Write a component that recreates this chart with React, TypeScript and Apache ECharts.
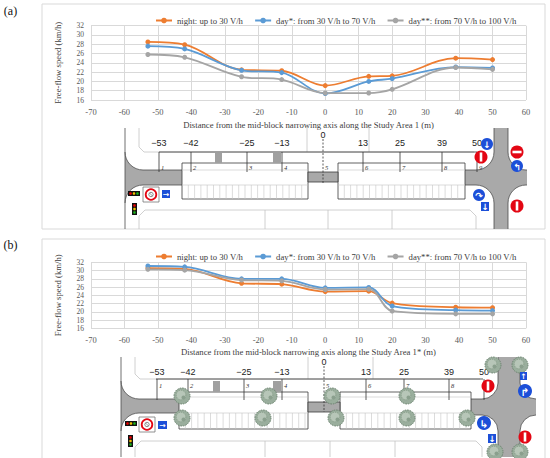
import React, { useEffect, useRef } from "react";
import * as echarts from "echarts";

// ---------- data ----------
const distances = [-53, -42, -25, -13, 0, 13, 20, 39, 50];
const seriesNames = [
  "night: up to 30 V/h",
  "day*: from 30 V/h to 70 V/h",
  "day**: from 70 V/h to 100 V/h",
];
const nightA = [28.5, 27.9, 22.5, 22.3, 19.1, 21.1, 21.2, 25.0, 24.7];
const dayA = [27.6, 27.0, 22.4, 21.9, 17.4, 20.0, 20.6, 23.1, 22.9];
const day2A = [25.8, 25.2, 21.0, 20.4, 17.5, 17.5, 18.3, 23.0, 22.6];
const nightB = [30.6, 30.4, 26.9, 26.7, 24.9, 25.0, 22.1, 21.1, 21.0];
const dayB = [31.1, 30.9, 28.0, 28.0, 25.8, 25.9, 21.4, 20.4, 20.3];
const day2B = [30.3, 30.1, 27.7, 27.5, 25.4, 25.5, 20.2, 19.5, 19.5];
const xMin = -70;
const xMax = 60;
const xStep = 10;
const yMin = 16;
const yMax = 32;
const yStep = 2;
const panelLabels = ["(a)", "(b)"];
const xAxisTitles = [
  "Distance from the mid-block narrowing axis along the Study Area 1 (m)",
  "Distance from the mid-block narrowing axis along the Study Area 1* (m)",
];
const yAxisTitle = "Free-flow speed (km/h)";
const stationLabels = ["−53", "−42", "−25", "−13", "0", "13", "25", "39", "50"];
const stationNumbers = ["1", "2", "3", "4", "5", "6", "7", "8", "9"];

// ---------- styles ----------
const COLORS = ["#ED7D31", "#5B9BD5", "#A5A5A5"];
const SERIF = "Liberation Serif";
const SANS = "Liberation Sans";
const ROAD = "#a9a9a9";
const CURB = "#4d4d4d";
const LIGHT = "#c4c4c4";
const RED = "#e30613";
const BLUE = "#1c4fd8";

// ---------- graphic helpers ----------
function rect(x: number, y: number, w: number, h: number, style: any) {
  return { type: "rect", shape: { x, y, width: w, height: h }, style, silent: true };
}
function line(x1: number, y1: number, x2: number, y2: number, stroke: string, lw = 0.8, dash?: number[]) {
  const style: any = { stroke, lineWidth: lw };
  if (dash) style.lineDash = dash;
  return { type: "line", shape: { x1, y1, x2, y2 }, style, silent: true };
}
function poly(points: number[][], stroke: string, lw = 0.8) {
  return { type: "polyline", shape: { points }, style: { stroke, lineWidth: lw, fill: null }, silent: true };
}
function circ(cx: number, cy: number, r: number, style: any) {
  return { type: "circle", shape: { cx, cy, r }, style, silent: true };
}
function txt(x: number, y: number, text: string, size: number, family: string, fill: string, extra: any = {}) {
  return {
    type: "text",
    x,
    y,
    style: { text, fontSize: size, fontFamily: family, fill, align: "center", verticalAlign: "middle", ...extra },
    silent: true,
  };
}
function corner(cx: number, cy: number, r: number, q: number) {
  const sx = q === 0 || q === 3 ? cx : cx - r;
  const sy = q === 0 || q === 1 ? cy : cy - r;
  const a0 = (q * Math.PI) / 2;
  const a1 = a0 + Math.PI / 2;
  return [
    rect(sx, sy, r, r, { fill: ROAD }),
    { type: "sector", shape: { cx, cy, r0: 0, r, startAngle: a0, endAngle: a1, clockwise: true }, style: { fill: "#fff" }, silent: true },
    { type: "arc", shape: { cx, cy, r, startAngle: a0, endAngle: a1, clockwise: true }, style: { stroke: CURB, fill: null, lineWidth: 0.8 }, silent: true },
  ];
}
function noEntry(cx: number, cy: number, r: number, vertical: boolean) {
  return [
    circ(cx, cy, r, { fill: RED }),
    vertical
      ? rect(cx - r * 0.2, cy - r * 0.7, r * 0.4, r * 1.4, { fill: "#fff" })
      : rect(cx - r * 0.7, cy - r * 0.2, r * 1.4, r * 0.4, { fill: "#fff" }),
  ];
}
function blueCircle(cx: number, cy: number, r: number, glyph: string) {
  return [
    circ(cx, cy, r, { fill: BLUE }),
    txt(cx, cy + 0.5, glyph, r * 1.5, "DejaVu Sans", "#fff", { fontWeight: "bold" }),
  ];
}
function blueSquare(x: number, y: number, w: number, h: number, glyph: string) {
  return [
    rect(x, y, w, h, { fill: BLUE }),
    txt(x + w / 2, y + h / 2 + 0.3, glyph, h * 0.95, "DejaVu Sans", "#fff", { fontWeight: "bold" }),
  ];
}
function trafficH(x: number, y: number) {
  return [
    rect(x, y, 12, 5, { fill: "#111" }),
    circ(x + 2.5, y + 2.5, 1.3, { fill: "#e00" }),
    circ(x + 6, y + 2.5, 1.3, { fill: "#f2c200" }),
    circ(x + 9.5, y + 2.5, 1.3, { fill: "#1bb31b" }),
  ];
}
function trafficV(x: number, y: number) {
  return [
    rect(x, y, 5, 12, { fill: "#111" }),
    circ(x + 2.5, y + 2.5, 1.3, { fill: "#e00" }),
    circ(x + 2.5, y + 6, 1.3, { fill: "#f2c200" }),
    circ(x + 2.5, y + 9.5, 1.3, { fill: "#1bb31b" }),
  ];
}
function speedSign(x: number, y: number) {
  return [
    rect(x, y, 16, 15, { fill: "#fff", stroke: "#777", lineWidth: 0.8 }),
    circ(x + 8, y + 7.5, 5.3, { fill: "#fff", stroke: RED, lineWidth: 1.8 }),
    circ(x + 8, y + 7.5, 2.2, { fill: "#fff", stroke: "#555", lineWidth: 0.7 }),
    line(x + 6.4, y + 5.9, x + 9.6, y + 9.1, "#555", 0.6),
  ];
}
function tree(cx: number, cy: number, r: number) {
  return [
    circ(cx, cy, r, { fill: "#9aae9d", stroke: "#6a826e", lineWidth: 1, lineDash: [1.5, 1] }),
    circ(cx - 1, cy - 1, r * 0.6, { fill: "#b7c6b8", stroke: "#7d947f", lineWidth: 0.8, lineDash: [1, 1] }),
    circ(cx + 1.5, cy + 1.5, r * 0.25, { fill: "#8a9f8d" }),
  ];
}

type DiagramCfg = {
  top: number;
  bottom: number;
  measureY: number;
  measureX: [number, number];
  labelY: number;
  zeroLabelY: number;
  zeroDash: [number, number];
  tickBottom: number;
  numY: number;
  stationX: number[];
  blocks: [number, number][];
  blockY: [number, number];
  stripY: number;
  stallTop: number;
  narrow: [number, number, number, number];
  left: { curbX: number; endX: number; y1: number; y2: number; r: number };
  inter: { vx1: number; vx2: number; hEnd: number; y1: number; y2: number; r: number };
  outlineLeft: number;
  outlineVerticals: number[];
  bottomY: number;
  bottomDividers: number[];
  bottomRight: number;
  markers: number[][];
};

function buildDiagram(c: DiagramCfg, extra: any[]) {
  const g: any[] = [];
  const L = c.left;
  const I = c.inter;
  // light block outlines (sidewalks / buildings)
  g.push(poly([[c.outlineLeft, c.top], [c.outlineLeft, c.measureY - 5], [c.outlineLeft + 5, c.measureY], [I.vx1 - I.r - 2, c.measureY]], LIGHT));
  c.outlineVerticals.forEach((x) => g.push(line(x, c.top, x, c.measureY, LIGHT)));
  g.push(poly([[c.outlineLeft, c.bottom], [c.outlineLeft, c.bottomY + 6], [c.outlineLeft + 6, c.bottomY], [c.bottomRight - 6, c.bottomY], [c.bottomRight, c.bottomY + 6], [c.bottomRight, c.bottom]], LIGHT));
  c.bottomDividers.forEach((x) => g.push(line(x, c.bottomY, x, c.bottom, LIGHT)));

  // roads
  g.push(rect(L.curbX, L.y1, L.endX - L.curbX, L.y2 - L.y1, { fill: ROAD }));
  g.push(...corner(L.curbX + L.r, L.y1 - L.r, L.r, 1));
  g.push(...corner(L.curbX + L.r, L.y2 + L.r, L.r, 2));
  const bx2 = c.blocks[1][1];
  g.push(rect(bx2, I.y1, I.hEnd - bx2, I.y2 - I.y1, { fill: ROAD }));
  g.push(rect(I.vx1, c.top, I.vx2 - I.vx1, c.bottom - c.top, { fill: ROAD }));
  g.push(...corner(I.vx1 - I.r, I.y1 - I.r, I.r, 0));
  g.push(...corner(I.vx2 + I.r, I.y1 - I.r, I.r, 1));
  g.push(...corner(I.vx1 - I.r, I.y2 + I.r, I.r, 3));
  g.push(...corner(I.vx2 + I.r, I.y2 + I.r, I.r, 2));
  // curbs
  g.push(line(L.curbX, c.top, L.curbX, c.bottom, CURB));
  g.push(line(L.curbX + L.r, L.y1, L.endX, L.y1, CURB));
  g.push(line(L.curbX + L.r, L.y2, L.endX, L.y2, CURB));
  g.push(line(bx2, I.y1, I.vx1 - I.r, I.y1, CURB));
  g.push(line(bx2, I.y2, I.vx1 - I.r, I.y2, CURB));
  g.push(line(I.vx1, c.top, I.vx1, I.y1 - I.r, CURB));
  g.push(line(I.vx2, c.top, I.vx2, I.y1 - I.r, CURB));
  g.push(line(I.vx1, I.y2 + I.r, I.vx1, c.bottom, CURB));
  g.push(line(I.vx2, I.y2 + I.r, I.vx2, c.bottom, CURB));
  g.push(line(I.vx2 + I.r, I.y1, I.hEnd, I.y1, CURB));
  g.push(line(I.vx2 + I.r, I.y2, I.hEnd, I.y2, CURB));

  // parking blocks
  c.blocks.forEach(([x1, x2]) => {
    g.push(rect(x1, c.blockY[0], x2 - x1, c.blockY[1] - c.blockY[0], { fill: "#fff", stroke: "#3a3a3a", lineWidth: 0.8 }));
    g.push(line(x1, c.stripY, x2, c.stripY, LIGHT, 0.6));
    g.push(line(x1, c.stallTop, x2, c.stallTop, LIGHT, 0.6));
    for (let x = x1 + 6.3; x < x2 - 2; x += 6.3) g.push(line(x, c.stallTop, x, c.blockY[1], LIGHT, 0.6));
  });
  // narrowing
  const [nx1, nx2, ny1, ny2] = c.narrow;
  g.push(rect(nx1, ny1, nx2 - nx1, ny2 - ny1, { fill: ROAD, stroke: "#3a3a3a", lineWidth: 0.8 }));
  c.markers.forEach(([x, y, w, h]) => g.push(rect(x, y, w, h, { fill: "#a0a0a0" })));

  // measurement line, ticks and labels
  g.push(line(c.measureX[0], c.measureY, c.measureX[1], c.measureY, "#333", 0.8));
  c.stationX.forEach((x, i) => {
    const isZero = stationLabels[i] === "0";
    if (isZero) {
      g.push(line(x, c.zeroDash[0], x, c.zeroDash[1], "#333", 0.8, [2, 1.5]));
      g.push(txt(x, c.zeroLabelY, stationLabels[i], 9, SANS, "#222"));
    } else {
      g.push(line(x, c.measureY, x, c.tickBottom, "#333", 0.8));
      g.push(txt(x, c.labelY, stationLabels[i], 9, SANS, "#222"));
    }
    g.push(txt(x + 3.5, c.numY, stationNumbers[i], 6.5, SERIF, "#333", { fontStyle: "italic" }));
  });
  g.push(...extra);
  return g;
}

const diagramA: DiagramCfg = {
  top: 128,
  bottom: 229,
  measureY: 152,
  measureX: [159, 477],
  labelY: 143,
  zeroLabelY: 135,
  zeroDash: [139, 183],
  tickBottom: 172,
  numY: 167,
  stationX: [159, 191, 247, 282, 323, 363, 400, 442, 477],
  blocks: [[182, 308], [338, 465]],
  blockY: [163, 199],
  stripY: 170,
  stallTop: 185,
  narrow: [308, 338, 172, 182],
  left: { curbX: 125, endX: 182, y1: 170, y2: 185, r: 18 },
  inter: { vx1: 494, vx2: 508, hEnd: 527, y1: 170, y2: 185, r: 18 },
  outlineLeft: 139,
  outlineVerticals: [307, 369],
  bottomY: 210,
  bottomDividers: [265, 328, 392],
  bottomRight: 476,
  markers: [[215, 153, 7, 10], [273, 153, 8, 10]],
};

const diagramB: DiagramCfg = {
  top: 357,
  bottom: 457,
  measureY: 379,
  measureX: [156, 483],
  labelY: 372,
  zeroLabelY: 362,
  zeroDash: [366, 412],
  tickBottom: 400,
  numY: 385,
  stationX: [157, 188, 244, 282, 324, 366, 404, 449, 484],
  blocks: [[179, 308], [340, 471]],
  blockY: [392, 429],
  stripY: 397,
  stallTop: 413,
  narrow: [308, 340, 402, 412],
  left: { curbX: 121, endX: 179, y1: 399, y2: 413, r: 18 },
  inter: { vx1: 498, vx2: 520, hEnd: 536, y1: 399, y2: 415, r: 16 },
  outlineLeft: 135,
  outlineVerticals: [308, 373],
  bottomY: 441,
  bottomDividers: [265, 330, 395],
  bottomRight: 482,
  markers: [[213, 381, 7, 11], [273, 381, 8, 11]],
};

const signsA = [
  ...trafficH(128, 191),
  ...trafficV(132, 203),
  ...speedSign(143, 187),
  ...blueSquare(162, 190, 8, 8, "→"),
  ...blueCircle(487, 144, 6, "↓"),
  ...noEntry(481, 157, 6.5, true),
  ...noEntry(517, 152, 6.5, false),
  ...blueCircle(517, 166, 6, "↰"),
  ...blueCircle(479, 195, 6, "↷"),
  ...blueSquare(481, 202, 8, 9, "↓"),
  ...noEntry(517, 206, 6.5, true),
];

const signsB = [
  ...tree(182, 396, 8),
  ...tree(182, 418, 8),
  ...tree(269, 396, 8),
  ...tree(263, 418, 8),
  ...tree(332, 396, 8),
  ...tree(336, 418, 8),
  ...tree(407, 396, 8),
  ...tree(407, 418, 8),
  ...tree(467, 418, 8),
  ...tree(493, 365, 8),
  ...tree(520, 365, 8),
  ...tree(495, 452, 8),
  ...tree(520, 452, 8),
  ...trafficH(125, 421),
  ...trafficV(128, 435),
  ...speedSign(139, 417),
  ...blueSquare(158, 421, 9, 8, "→"),
  ...noEntry(488, 386, 6.5, true),
  ...blueSquare(520, 372, 7, 8, "↑"),
  ...blueCircle(525, 391, 7, "↱"),
  ...blueCircle(484, 423, 7, "↳"),
  ...blueSquare(488, 434, 8, 9, "↓"),
  ...noEntry(525, 437, 6.5, true),
];

function makeSeries(values: number[], idx: number, axis: number) {
  return {
    name: seriesNames[idx],
    type: "line",
    xAxisIndex: axis,
    yAxisIndex: axis,
    smooth: 0.35,
    symbol: "circle",
    symbolSize: 5,
    showSymbol: true,
    lineStyle: { color: COLORS[idx], width: 1.8 },
    itemStyle: { color: COLORS[idx] },
    data: distances.map((d, i) => [d, values[i]]),
  };
}

function xAxisCfg(i: number) {
  return {
    type: "value",
    gridIndex: i,
    min: xMin,
    max: xMax,
    interval: xStep,
    axisLine: { show: false },
    axisTick: { show: false },
    splitLine: { show: true, lineStyle: { color: "#d9d9d9", width: 1 } },
    axisLabel: { color: "#595959", fontSize: 8.5, fontFamily: SERIF, margin: 7 },
    name: xAxisTitles[i],
    nameLocation: "middle",
    nameGap: i === 0 ? 20 : 19,
    nameTextStyle: { color: "#404040", fontSize: 8.7, fontFamily: SERIF },
  };
}
function yAxisCfg(i: number) {
  return {
    type: "value",
    gridIndex: i,
    min: yMin,
    max: yMax,
    interval: yStep,
    axisLine: { show: false },
    axisTick: { show: false },
    splitLine: { show: true, lineStyle: { color: "#d9d9d9", width: 1 } },
    axisLabel: { color: "#595959", fontSize: 7.5, fontFamily: SERIF, margin: 7 },
    name: yAxisTitle,
    nameLocation: "middle",
    nameGap: 29,
    nameRotate: 90,
    nameTextStyle: { color: "#404040", fontSize: 8.7, fontFamily: SERIF },
  };
}

function legendCfg(top: number) {
  return {
    top,
    left: 150,
    itemWidth: 16,
    itemHeight: 7,
    itemGap: 11,
    textStyle: { fontSize: 8.7, fontFamily: SERIF, color: "#404040" },
    data: seriesNames,
  };
}

export default function App() {
  const ref = useRef<HTMLDivElement>(null);
  useEffect(() => {
    if (!ref.current) return;
    const chart = echarts.init(ref.current, null, { renderer: "svg" });
    const frames = [
      rect(42, 4, 503, 225, { fill: "none", stroke: "#d9d9d9", lineWidth: 1 }),
      rect(42, 239, 503, 222, { fill: "none", stroke: "#d9d9d9", lineWidth: 1 }),
      txt(10.5, 11, panelLabels[0], 12, SERIF, "#111"),
      txt(10.5, 245, panelLabels[1], 12, SERIF, "#111"),
    ];
    chart.setOption({
      animation: false,
      backgroundColor: "#fff",
      grid: [
        { left: 91, right: 24, top: 25.7, height: 74.3 },
        { left: 91, right: 24, top: 262.3, height: 66 },
      ],
      legend: [legendCfg(11), legendCfg(247)],
      xAxis: [xAxisCfg(0), xAxisCfg(1)],
      yAxis: [yAxisCfg(0), yAxisCfg(1)],
      series: [
        makeSeries(nightA, 0, 0),
        makeSeries(dayA, 1, 0),
        makeSeries(day2A, 2, 0),
        makeSeries(nightB, 0, 1),
        makeSeries(dayB, 1, 1),
        makeSeries(day2B, 2, 1),
      ],
      graphic: [
        ...frames,
        ...buildDiagram(diagramA, signsA),
        ...buildDiagram(diagramB, signsB),
      ],
    });
    return () => chart.dispose();
  }, []);
  return <div ref={ref} style={{ position: "absolute", left: 0, top: 0, width: 550, height: 458 }} />;
}
